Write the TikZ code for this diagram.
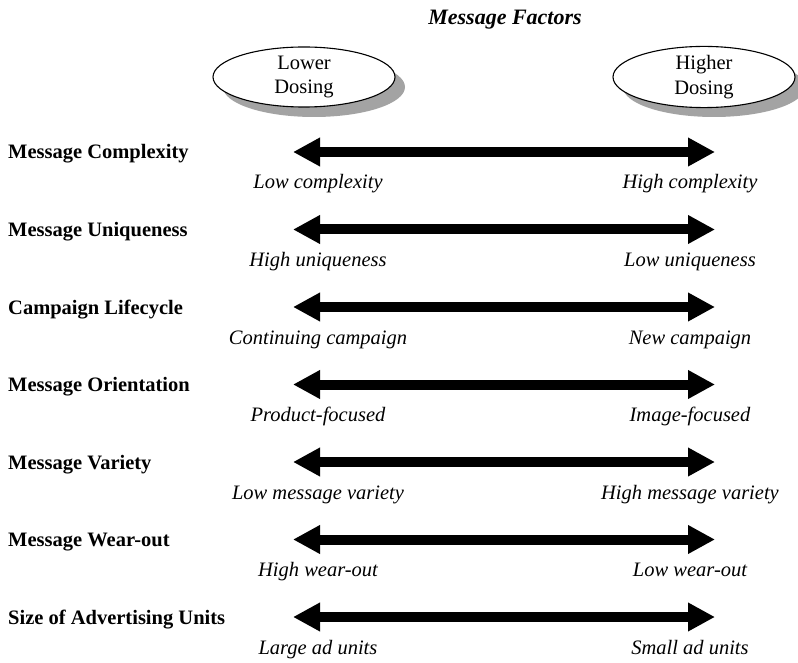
\documentclass[tikz,border=0pt]{standalone}
\usepackage{fontspec}
\setmainfont{Liberation Serif}
\usetikzlibrary{arrows.meta,shapes.geometric}
\definecolor{ovalgray}{gray}{0.64}
\begin{document}
\begin{tikzpicture}[x=1pt,y=-1pt,
  txt/.style={inner sep=0pt, font=\fontsize{20.5}{24.6}\selectfont},
  factor/.style={txt, anchor=base west, font=\fontsize{20.5}{24.6}\selectfont\bfseries},
  pole/.style={txt, anchor=base, font=\fontsize{20.5}{24.6}\selectfont\itshape},
  oval/.style={ellipse, minimum width=182pt, minimum height=60pt, inner sep=0pt},
  dosing/.style={oval, draw, line width=1.1pt, fill=white, align=center, font=\fontsize{20.5}{24.6}\selectfont},
  ovalshadow/.style={oval, fill=ovalgray},
  scalearrow/.style={line width=10pt, {Triangle[length=27pt,width=27pt]}-{Triangle[length=27pt,width=27pt]}}
]
\useasboundingbox (0,0) rectangle (798,663);

% heading
\node[txt, anchor=base, font=\fontsize{22}{26}\selectfont\bfseries\itshape] (title) at (505,25) {Message Factors};

% the two ends of the dosing scale, each with a drop shadow
\node[ovalshadow] (lowshadow) at (314,87) {};
\node[dosing] (low) at (304,77) {Lower\\Dosing};
\node[ovalshadow] (highshadow) at (714,87) {};
\node[dosing] (high) at (704,77) {Higher\\Dosing};

% one double-headed scale per message factor
\foreach \f/\l/\r [count=\i from 0] in {
  Message Complexity/Low complexity/High complexity,
  Message Uniqueness/High uniqueness/Low uniqueness,
  Campaign Lifecycle/Continuing campaign/New campaign,
  Message Orientation/Product-focused/Image-focused,
  Message Variety/Low message variety/High message variety,
  Message Wear-out/High wear-out/Low wear-out,
  Size of Advertising Units/Large ad units/Small ad units}
{
  \pgfmathsetmacro{\y}{152+77.5*\i}
  \node[factor] (f\i) at (8,\y+7) {\f};
  \coordinate (a\i-l) at (293,\y);
  \coordinate (a\i-r) at (715,\y);
  \draw[scalearrow] (a\i-l) -- (a\i-r);
  \node[pole] (p\i-l) at (318,\y+37) {\l};
  \node[pole] (p\i-r) at (690,\y+37) {\r};
}
\end{tikzpicture}
\end{document}
